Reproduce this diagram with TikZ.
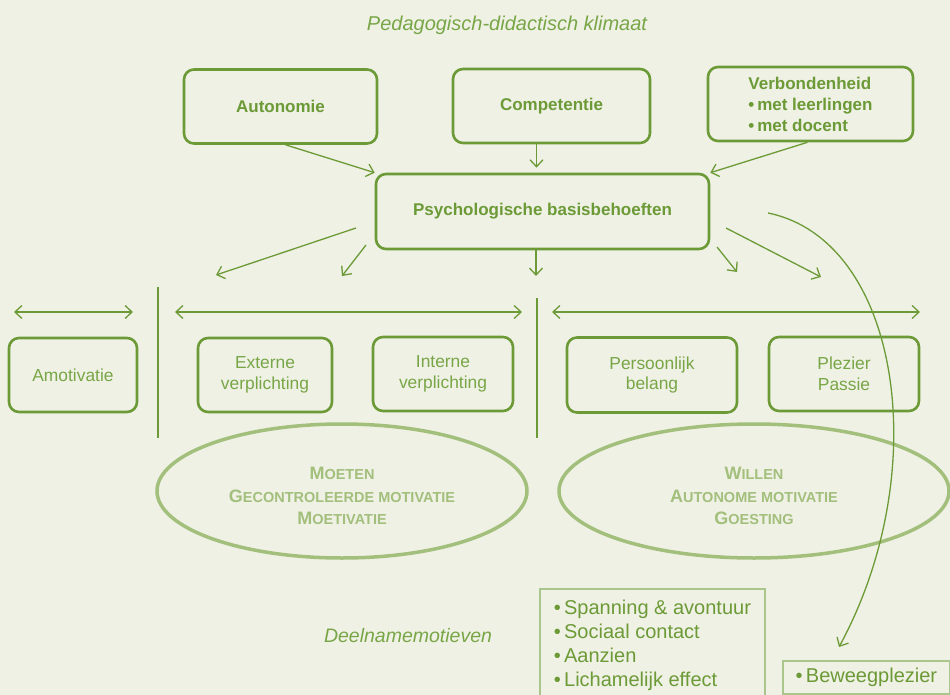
\documentclass[tikz,border=0pt]{standalone}
\usepackage{fontspec}
\setmainfont{Liberation Sans}
\usetikzlibrary{arrows.meta,shapes.geometric}

\definecolor{achtergrond}{RGB}{239,241,229}
\definecolor{groen}{RGB}{108,154,54}
\definecolor{zachtgroen}{RGB}{120,166,70}
\definecolor{ovaalgroen}{RGB}{163,191,124}
\definecolor{kadergroen}{RGB}{170,198,140}

\newcommand\kap[2]{#1{\fontsize{14.5}{17}\selectfont #2}}

\tikzset{
	blok/.style={draw=groen, line width=2.6pt, rounded corners=10pt, align=center, inner sep=0pt, minimum height=74pt},
	vet/.style={text=groen, font=\bfseries\fontsize{17}{21}\selectfont},
	gewoon/.style={text=zachtgroen, font=\fontsize{17.4}{20.5}\selectfont},
	ovaal/.style={ellipse, draw=ovaalgroen, line width=3.5pt, inner sep=0pt, minimum height=134pt},
	ovaaltekst/.style={text=ovaalgroen, align=center, font=\bfseries\fontsize{18}{22.5}\selectfont},
	kader/.style={draw=kadergroen, line width=1.8pt, text=groen, font=\fontsize{20}{24}\selectfont},
	cursief/.style={text=zachtgroen, font=\itshape\fontsize{20}{24}\selectfont},
	pijl/.style={draw=groen, line width=1.3pt, -{Straight Barb[length=7pt,width=13pt]}},
	schaal/.style={draw=groen, line width=1.3pt, {Straight Barb[length=7pt,width=13pt]}-{Straight Barb[length=7pt,width=13pt]}}
}

\begin{document}
\begin{tikzpicture}[x=1pt,y=-1pt]
	\def\ly{312}
	\def\ey{491}

	\fill[achtergrond] (0,0) rectangle (950,695);
	\useasboundingbox (0,0) rectangle (950,695);

	% Klimaat en basisbehoeften
	\node[cursief] (titel) at (507,25) {Pedagogisch-didactisch klimaat};
	\node[blok, vet, minimum width=193pt] (auto) at (280.5,106.5) {Autonomie};
	\node[blok, vet, minimum width=197pt] (comp) at (551.5,106) {Competentie};
	\node[blok, vet, minimum width=205pt, align=left] (verb) at (810.5,104) {Verbondenheid\\\textbullet\,met leerlingen\\\textbullet\,met docent};
	\node[blok, vet, minimum width=333pt, minimum height=75pt] (psych) at (542.5,211.5) {Psychologische basisbehoeften};

	\draw[pijl] ([xshift=5pt]auto.south) -- (psych.north west);
	\draw[pijl, shorten >=5pt] ([xshift=-15pt]comp.south) -- ([xshift=-15pt]comp.south |- psych.north);
	\draw[pijl] ([xshift=-3pt]verb.south) -- (psych.north east);

	% Pijlen naar het continuum
	\coordinate (v1) at (356,228); \coordinate (n1) at (216,275);
	\coordinate (v2) at (366,245); \coordinate (n2) at (342,276);
	\coordinate (v3) at (536,249); \coordinate (n3) at (536,276);
	\coordinate (v4) at (717,247); \coordinate (n4) at (737,272);
	\coordinate (v5) at (726,228); \coordinate (n5) at (821,277);
	\foreach \i in {1,...,5} {
		\draw[pijl] (v\i) -- (n\i);
	}

	% Schalen en scheidingslijnen
	\draw[schaal] (14,\ly) -- (133,\ly);
	\draw[schaal] (175,\ly) -- (522,\ly);
	\draw[schaal] (552,\ly) -- (920,\ly);
	\draw[groen, line width=1.5pt] (158,287) -- (158,438);
	\draw[groen, line width=1.5pt] (537,298) -- (537,438);

	% Motivatievormen
	\node[blok, gewoon, minimum width=128pt] (amot) at (73,375) {Amotivatie};
	\node[blok, gewoon, minimum width=134pt] (extern) at (265,375) {Externe\\verplichting};
	\node[blok, gewoon, minimum width=140pt] (intern) at (443,374) {Interne\\verplichting};
	\node[blok, gewoon, minimum width=170pt, minimum height=75pt] (pers) at (652,375) {Persoonlijk\\belang};
	\node[blok, gewoon, minimum width=150pt] (plez) at (844,374) {Plezier\\Passie};

	\node[ovaal, minimum width=370pt] (moeten) at (342,\ey) {};
	\node[ovaal, minimum width=390pt] (willen) at (754,\ey) {};
	\node[ovaaltekst] (moetentekst) at ([yshift=-5pt]moeten.center) {\kap{M}{OETEN}\\\kap{G}{ECONTROLEERDE MOTIVATIE}\\\kap{M}{OETIVATIE}};
	\node[ovaaltekst] (willentekst) at ([yshift=-5pt]willen.center) {\kap{W}{ILLEN}\\\kap{A}{UTONOME MOTIVATIE}\\\kap{G}{OESTING}};

	% Deelnamemotieven
	\node[cursief, font=\itshape\fontsize{19.5}{24}\selectfont] (deelname) at (408,636) {Deelnamemotieven};
	\node[kader, anchor=north west, minimum width=225pt, inner xsep=12pt, inner ysep=11pt, align=left] (motieven) at (539,588) {\textbullet\,Spanning \& avontuur\\\textbullet\,Sociaal contact\\\textbullet\,Aanzien\\\textbullet\,Lichamelijk effect};
	\node[kader, anchor=north west, minimum width=167pt, minimum height=33pt, inner sep=0pt] (beweeg) at (782,660) {\textbullet\,Beweegplezier};

	\coordinate (boogstart) at (768,213);
	\coordinate (boogeind) at (839,647);
	\draw[pijl] (boogstart) .. controls (900,240) and (935,470) .. (boogeind);
\end{tikzpicture}
\end{document}
